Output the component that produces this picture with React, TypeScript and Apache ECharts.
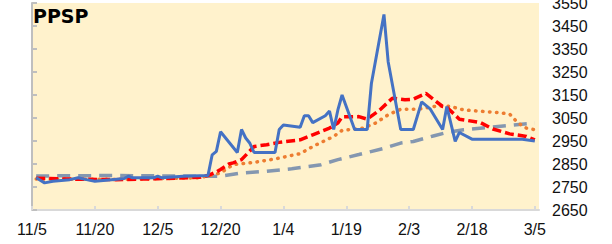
import React, { useEffect, useRef } from "react";
import * as echarts from "echarts";

// x values are days since 11/5
const tickDays = [0, 15, 30, 45, 60, 75, 90, 105, 120];
const tickLabels = ["11/5", "11/20", "12/5", "12/20", "1/4", "1/19", "2/3", "2/18", "3/5"];

const blueSeries: [number, number][] = [
  [1, 2790], [3, 2768], [5, 2775], [9, 2782], [11, 2790], [13, 2782], [15, 2775], [19, 2782],
  [22, 2787], [23, 2797], [24, 2790], [29, 2790], [30, 2797], [31, 2790], [36, 2797], [42, 2800],
  [43, 2890], [44, 2905], [45, 2990], [49, 2900], [50, 3000], [51, 2963], [52, 2940], [53, 2900],
  [58, 2900], [59, 3000], [60, 3020], [64, 3010], [65, 3060], [66, 3060], [67, 3030], [70, 3060],
  [71, 3080], [72, 3000], [73, 3085], [74, 3150], [77, 3000], [80, 3000], [81, 3200], [84, 3500],
  [85, 3295], [88, 3000], [91, 3000], [93, 3120], [95, 3090], [98, 3000], [99, 3100], [101, 2948],
  [102, 2987], [105, 2958], [117, 2958], [120, 2950],
];

const redSeries: [number, number][] = [
  [1, 2788], [10, 2784], [20, 2782], [30, 2786], [40, 2792], [42, 2800], [44, 2815], [45, 2826],
  [47, 2850], [48, 2855], [50, 2869], [53, 2926], [56, 2934], [59, 2944], [64, 2955], [67, 2977],
  [71, 3006], [73, 3028], [74, 3055], [78, 3056], [80, 3045], [83, 3085], [86, 3136], [89, 3129],
  [91, 3132], [94, 3157], [98, 3100], [99, 3097], [102, 3045], [107, 3030], [110, 3002],
  [114, 2981], [118, 2970], [120, 2955],
];

const orangeSeries: [number, number][] = [
  [1, 2785], [20, 2783], [40, 2790], [45, 2811], [48, 2847], [53, 2857], [58, 2872], [64, 2895],
  [67, 2926], [72, 2970], [74, 2996], [79, 3006], [82, 3028], [85, 3064], [88, 3088], [92, 3088],
  [97, 3103], [100, 3100], [103, 3085], [111, 3074], [114, 3067], [116, 3028], [118, 3006],
  [120, 2999],
];

const greySeries: [number, number][] = [
  [1, 2798], [20, 2800], [40, 2797], [45, 2797], [50, 2811], [56, 2818], [62, 2829], [69, 2847],
  [73, 2869], [78, 2891], [84, 2918], [88, 2941], [91, 2948], [96, 2973], [99, 2987], [103, 2999],
  [109, 3009], [115, 3020], [120, 3028],
];

const yTicks = { min: 2650, max: 3550, step: 100 };

export default function App() {
  const ref = useRef<HTMLDivElement>(null);
  useEffect(() => {
    if (!ref.current) return;
    const chart = echarts.init(ref.current, undefined, { renderer: "svg" });
    const labelFont = "'Liberation Sans', Arial, sans-serif";
    chart.setOption({
      animation: false,
      backgroundColor: "#ffffff",
      title: {
        text: "PPSP",
        left: 33,
        top: 6,
        padding: 0,
        textStyle: {
          fontFamily: "'DejaVu Sans', Verdana, sans-serif",
          fontWeight: "bold",
          fontSize: 19,
          color: "#000",
        },
      },
      grid: {
        left: 32,
        right: 73,
        top: 3,
        bottom: 34,
        show: true,
        backgroundColor: "#FFF2CC",
        borderWidth: 0,
        containLabel: false,
        outerBoundsMode: "none",
      },
      xAxis: {
        type: "value",
        min: 0,
        max: 121,
        splitLine: { show: false },
        axisLine: { show: true, lineStyle: { color: "#D9D9D9", width: 2 } },
        axisTick: {
          show: true,
          inside: true,
          length: 4,
          customValues: tickDays,
          lineStyle: { color: "#D9D9D9", width: 2 },
        },
        axisLabel: {
          customValues: tickDays,
          margin: 11,
          fontSize: 16,
          fontFamily: labelFont,
          color: "#111",
          formatter: (v: number) => {
            const i = tickDays.indexOf(v);
            return i >= 0 ? tickLabels[i] : "";
          },
        },
      },
      yAxis: {
        type: "value",
        position: "right",
        min: yTicks.min,
        max: yTicks.max,
        interval: yTicks.step,
        splitLine: { show: false },
        axisLine: { show: true, lineStyle: { color: "#BFBFBF", width: 2 } },
        axisTick: { show: true, length: 5, lineStyle: { color: "#BFBFBF", width: 2 } },
        axisLabel: {
          margin: 13,
          fontSize: 16,
          fontFamily: labelFont,
          color: "#111",
          formatter: (v: number) => String(v),
        },
      },
      series: [
        {
          type: "line",
          data: greySeries,
          showSymbol: false,
          symbol: "none",
          lineStyle: { color: "#8497B0", width: 3.5, type: [13, 8] },
        },
        {
          type: "line",
          data: orangeSeries,
          showSymbol: false,
          symbol: "none",
          lineStyle: { color: "#ED7D31", width: 3.5, type: [0.5, 6.5], cap: "round" },
        },
        {
          type: "line",
          data: redSeries,
          showSymbol: false,
          symbol: "none",
          lineStyle: { color: "#FF0000", width: 3.5, type: [9, 4] },
        },
        {
          type: "line",
          data: blueSeries,
          showSymbol: false,
          symbol: "none",
          lineStyle: { color: "#4472C4", width: 3 },
        },
      ],
    });
    return () => chart.dispose();
  }, []);
  return (
    <div
      ref={ref}
      style={{ position: "absolute", left: 0, top: 0, width: 612, height: 244 }}
    />
  );
}
